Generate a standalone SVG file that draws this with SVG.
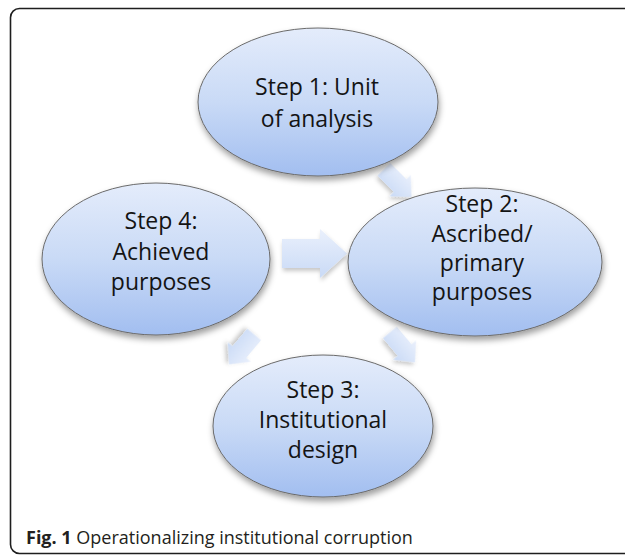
<svg xmlns="http://www.w3.org/2000/svg" width="625" height="557" viewBox="0 0 625 557">
<defs>
  <linearGradient id="gE" x1="0" y1="0" x2="0" y2="1">
    <stop offset="0" stop-color="#e4ecfb"/>
    <stop offset="0.5" stop-color="#c9daf6"/>
    <stop offset="1" stop-color="#a2bef0"/>
  </linearGradient>
  <linearGradient id="gA" x1="0" y1="0" x2="0" y2="1">
    <stop offset="0" stop-color="#eaf0fc"/>
    <stop offset="1" stop-color="#c9daf6"/>
  </linearGradient>
  <filter id="sh" x="-20%" y="-20%" width="140%" height="150%">
    <feDropShadow dx="1" dy="4" stdDeviation="3" flood-color="#000" flood-opacity="0.38"/>
  </filter>
  <filter id="sha" x="-30%" y="-30%" width="160%" height="170%">
    <feDropShadow dx="1" dy="3" stdDeviation="2" flood-color="#000" flood-opacity="0.22"/>
  </filter>
  <path id="smallArrow" d="M-19.5,-9 L3.5,-9 L3.5,-15 L19.5,0 L3.5,15 L3.5,9 L-19.5,9 Z"/>
</defs>
<style>
  .node ellipse { fill: url(#gE); stroke: #6a6a6a; stroke-width: 1; filter: url(#sh); }
  .node text { font-family: "Open Sans", "Noto Sans", sans-serif; font-size: 23px; fill: #141414; text-anchor: middle; }
  .arrow { fill: url(#gA); filter: url(#sha); }
  .frame { fill: none; stroke: #1e1e1e; stroke-width: 1.6; }
  .cap { font-family: "Open Sans", "Noto Sans", sans-serif; font-size: 18px; fill: #231f20; }
</style>

<rect class="frame" x="10.5" y="8.5" width="640" height="545" rx="9" ry="9"/>

<g id="connectors">
  <use class="arrow" href="#smallArrow" transform="translate(397.7,183.2) rotate(45)"/>
  <use class="arrow" href="#smallArrow" transform="translate(402.4,347.4) rotate(50)"/>
  <use class="arrow" href="#smallArrow" transform="translate(241.6,349.4) rotate(130)"/>
  <path class="arrow" d="M282,239 L320,239 L320,229 L347,253.5 L320,278 L320,268 L282,268 Z"/>
</g>

<g id="node1" class="node">
  <ellipse cx="318" cy="102" rx="120" ry="74"/>
  <text x="317" y="95">Step 1: Unit</text>
  <text x="317" y="127">of analysis</text>
</g>

<g id="node2" class="node">
  <ellipse cx="475" cy="262" rx="127" ry="74"/>
  <text x="482" y="212">Step 2:</text>
  <text x="482" y="242">Ascribed/</text>
  <text x="482" y="271">primary</text>
  <text x="482" y="300">purposes</text>
</g>

<g id="node3" class="node">
  <ellipse cx="323" cy="426" rx="110" ry="71"/>
  <text x="323" y="398">Step 3:</text>
  <text x="323" y="428">Institutional</text>
  <text x="323" y="458">design</text>
</g>

<g id="node4" class="node">
  <ellipse cx="156" cy="259" rx="114" ry="76"/>
  <text x="161" y="229">Step 4:</text>
  <text x="161" y="260">Achieved</text>
  <text x="161" y="290">purposes</text>
</g>

<text class="cap" x="26" y="544"><tspan font-weight="bold">Fig. 1</tspan> Operationalizing institutional corruption</text>
</svg>
